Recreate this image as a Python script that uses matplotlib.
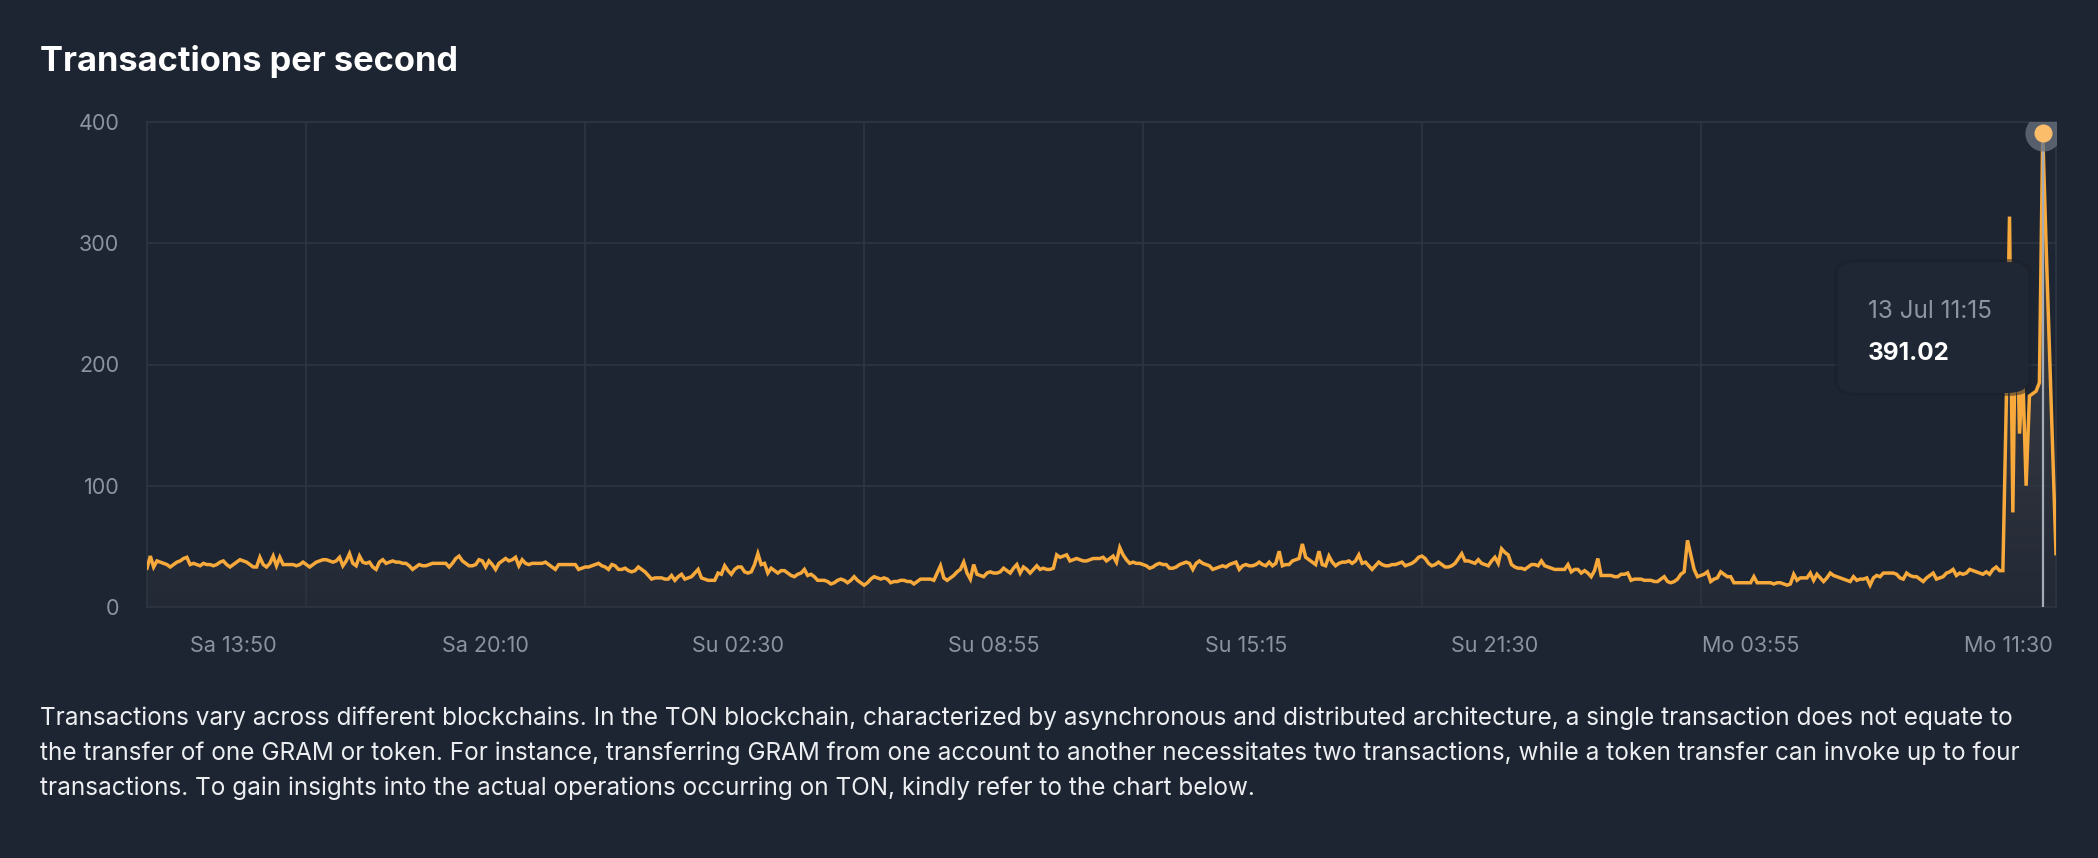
import numpy as np
import matplotlib
matplotlib.use("Agg")
import matplotlib.pyplot as plt
import matplotlib.dates as mdates
from matplotlib.patches import FancyBboxPatch
from matplotlib.colors import LinearSegmentedColormap

# ---------------- data ----------------
start_time = np.datetime64('2020-07-11T11:40')
step_minutes = 5

tps = [
    32, 42, 33, 38, 37, 36, 35, 33, 35, 37, 38, 40, 41, 35, 36, 35, 34, 36, 35, 35,
    34, 35, 37, 38, 35, 33, 35, 37, 39, 38, 37, 35, 33, 33, 41, 35, 33, 36, 42, 34,
    41, 35, 35, 35, 35, 34, 35, 37, 35, 33, 35, 37, 38, 39, 39, 38, 37, 38, 41, 34,
    38, 44, 36, 34, 42, 37, 36, 37, 33, 31, 37, 39, 36, 37, 38, 37, 37, 36, 36, 34,
    31, 33, 35, 34, 34, 35, 36, 36, 36, 36, 36, 33, 36, 40, 42, 38, 36, 34, 34, 35,
    39, 38, 33, 38, 35, 31, 36, 38, 40, 38, 39, 41, 34, 39, 36, 35, 36, 36, 36, 36,
    37, 35, 33, 31, 35, 35, 35, 35, 35, 35, 31, 32, 33, 33, 34, 35, 36, 34, 33, 31,
    35, 34, 31, 31, 32, 30, 29, 30, 33,
    31, 29, 26, 23, 24, 24, 24, 23, 23, 26, 22, 25, 27, 23, 24, 25, 28, 31, 24, 23,
    22, 22, 22, 28, 27, 34, 30, 27, 31, 33, 33, 29, 28, 29, 35, 44, 35, 36, 28, 32,
    30, 28, 30, 30, 28, 26, 25, 27, 28, 31, 26, 27, 25, 22, 22, 22, 21, 19, 20, 22,
    23, 22, 20, 22, 25, 22, 20, 18, 20, 23, 25, 24, 23, 24, 23, 20, 21, 21, 22, 22,
    21, 21, 19, 21, 23, 23, 23, 23, 22, 28, 34, 24, 22, 24, 26, 29, 31, 37, 28, 23,
    35, 27, 26, 25, 28, 29, 28, 28, 29, 32, 30, 28, 32, 35, 28, 33, 31, 28, 31, 34,
    31, 32, 31, 31, 32, 43, 41, 42, 43, 38, 39, 40, 39, 38, 38, 39, 40, 40, 40, 41,
    38, 40, 42, 37, 49, 43, 39, 36,
    37, 36, 36, 35, 34, 32, 33, 35, 36, 35, 35, 32, 32, 33, 35, 36, 37, 36, 31, 36,
    38, 36, 35, 34, 31, 32, 33, 34, 33, 35, 36, 37, 31, 34, 35, 34, 34, 35, 37, 35,
    34, 37, 34, 36, 46, 34, 35, 35, 38, 39, 40, 52, 41, 39, 37, 35, 46, 35, 34, 42,
    37, 34, 36, 37, 37, 38, 36, 38, 43, 36, 37, 34, 31, 34, 37, 35, 34, 34, 35, 35,
    36, 37, 34, 35, 36, 38, 41, 42, 40, 36, 34, 35, 37, 35, 33, 33, 34, 36, 40, 44,
    38, 38, 37, 36, 39, 36, 35, 34, 38, 41, 36, 48, 45, 43, 35, 33, 32, 32, 31, 33,
    35, 35, 34, 38, 34, 33, 32, 31, 31, 31, 31, 35, 29, 31, 31, 28, 30, 28, 25, 30,
    40, 26, 26, 26, 26, 25, 25,
    27, 27, 28, 22, 23, 23, 23, 22, 22, 22, 21, 21, 23, 25, 21, 20, 21, 23, 27, 29,
    55, 43, 31, 25, 26, 27, 29, 21, 23, 24, 29, 27, 25, 25, 20, 20, 20, 20, 20, 20,
    25, 20, 20, 20, 20, 20, 19, 20, 20, 19, 18, 19, 27, 22, 24, 24, 24, 28, 22, 27,
    24, 21, 24, 28, 26, 25, 24, 23, 22, 21, 25, 22, 23, 23, 24, 18, 24, 26, 25, 28,
    28, 28, 28, 27, 24, 23, 28, 26, 25, 25, 23, 21, 24, 26, 28, 23, 24, 25, 28, 29,
    31, 26, 28, 27, 28, 31, 30, 29, 28, 27, 29, 27, 31, 33, 30, 30,
    165, 322, 78, 283, 143, 191, 100, 174, 176, 178, 185, 391.02, 300, 215, 130, 44,
]

x_tick_times = ['2020-07-11T13:50', '2020-07-11T20:10', '2020-07-12T02:30',
                '2020-07-12T08:55', '2020-07-12T15:15', '2020-07-12T21:30',
                '2020-07-13T03:55', '2020-07-13T11:30']
x_tick_labels = ['Sa 13:50', 'Sa 20:10', 'Su 02:30', 'Su 08:55',
                 'Su 15:15', 'Su 21:30', 'Mo 03:55', 'Mo 11:30']
x_grid_times = ['2020-07-11T15:40', '2020-07-11T22:40', '2020-07-12T05:40',
                '2020-07-12T12:40', '2020-07-12T19:40', '2020-07-13T02:40']
y_ticks = [0, 100, 200, 300, 400]

tooltip_date = '13 Jul 11:15'
tooltip_value = '391.02'

title = 'Transactions per second'
paragraph = [
    "Transactions vary across different blockchains. In the TON blockchain, characterized by asynchronous and distributed architecture, a single transaction does not equate to",
    "the transfer of one GRAM or token. For instance, transferring GRAM from one account to another necessitates two transactions, while a token transfer can invoke up to four",
    "transactions. To gain insights into the actual operations occurring on TON, kindly refer to the chart below.",
]

# ---------------- style ----------------
BG = '#1e2532'
GRID = '#2d3542'
TICK = '#8a93a2'
LINE = '#f7a93b'
FONT = ['Inter', 'DejaVu Sans']
plt.rcParams['font.family'] = FONT

W, H, DPI = 2098, 858, 100
fig = plt.figure(figsize=(W / DPI, H / DPI), dpi=DPI, facecolor=BG)

ax_l, ax_r, ax_t, ax_b = 147, 2056, 122, 607
ax = fig.add_axes([ax_l / W, 1 - ax_b / H, (ax_r - ax_l) / W, (ax_b - ax_t) / H])
ax.set_facecolor(BG)

tps_arr = np.array(tps, dtype=float)
times = start_time + np.arange(len(tps_arr)) * np.timedelta64(step_minutes, 'm')
xd = mdates.date2num(times)

# gradient fill under curve
poly = ax.fill_between(xd, 0, tps_arr, color='none', lw=0)
grad = np.linspace(0, 1, 256).reshape(-1, 1)
cmap = LinearSegmentedColormap.from_list(
    'g', [(0.62, 0.58, 0.54, 0.04), (0.62, 0.58, 0.54, 0.30)])
im = ax.imshow(grad, cmap=cmap, aspect='auto', origin='lower',
               extent=[xd[0], xd[-1], 0, 400], zorder=1)
im.set_clip_path(poly.get_paths()[0], transform=ax.transData)

ax.plot(xd, tps_arr, color=LINE, lw=2.5, zorder=3, solid_joinstyle='miter')

ax.set_xlim(xd[0], xd[-1])
ax.set_ylim(0, 400)

# ticks / grid
ax.set_yticks(y_ticks)
ax.set_yticklabels([str(v) for v in y_ticks])
ax.set_xticks(mdates.date2num(np.array(x_tick_times, dtype='datetime64[m]')))
ax.set_xticklabels(x_tick_labels)
ax.set_xticks(mdates.date2num(np.array(x_grid_times, dtype='datetime64[m]')), minor=True)
ax.tick_params(axis='both', which='both', length=0, colors=TICK, labelsize=15.5)
ax.tick_params(axis='x', pad=21)
ax.tick_params(axis='y', pad=20)
xt = ax.get_xticklabels()
xt[-1].set_ha('right')
ax.grid(axis='y', which='major', color=GRID, lw=1.2)
ax.grid(axis='x', which='minor', color=GRID, lw=1.2)
ax.grid(axis='x', which='major', visible=False)
for s in ax.spines.values():
    s.set_color(GRID)
    s.set_linewidth(1.2)

# tooltip crosshair + marker
peak_i = int(np.argmax(tps_arr))
px, py = xd[peak_i], tps_arr[peak_i]
ax.plot([px, px], [0, py], color='#a4acb7', lw=1.6, zorder=4)
ax.plot([px], [py], 'o', ms=26, color='#6b7380', alpha=0.75, zorder=6, mec='none')
ax.plot([px], [py], 'o', ms=13, color='#fbbd69', zorder=7, mec='none')

# tooltip box (axes fraction)
bx0, bx1 = (1838 - ax_l) / (ax_r - ax_l), (2028 - ax_l) / (ax_r - ax_l)
by0, by1 = (ax_b - 393) / (ax_b - ax_t), (ax_b - 262) / (ax_b - ax_t)
shadow = FancyBboxPatch((bx0 - 0.002, by0 - 0.006), bx1 - bx0 + 0.004, by1 - by0 + 0.012,
                        boxstyle='round,pad=0,rounding_size=0.012', transform=ax.transAxes,
                        facecolor='#1a212c', edgecolor='none', alpha=0.5, zorder=5,
                        mutation_aspect=2.4)
ax.add_patch(shadow)
box = FancyBboxPatch((bx0, by0), bx1 - bx0, by1 - by0,
                     boxstyle='round,pad=0,rounding_size=0.011', transform=ax.transAxes,
                     facecolor='#1f2734', edgecolor='none', zorder=5.5,
                     mutation_aspect=2.4)
ax.add_patch(box)
tx = (1868 - ax_l) / (ax_r - ax_l)
ax.text(tx, (ax_b - 312) / (ax_b - ax_t), tooltip_date, transform=ax.transAxes,
        color='#8c95a3', fontsize=17.5, va='center', ha='left', zorder=6)
ax.text(tx, (ax_b - 354) / (ax_b - ax_t), tooltip_value, transform=ax.transAxes,
        color='#ffffff', fontsize=17.5, fontweight='bold', va='center', ha='left', zorder=6)

# title
fig.text(40 / W, 1 - 61 / H, title, color='white', fontsize=24.8, fontweight='bold',
         va='center', ha='left')

# paragraph
for k, line in enumerate(paragraph):
    fig.text(40 / W, 1 - (718 + 35 * k) / H, line, color='#eceef1', fontsize=17.5,
             va='center', ha='left')

fig.savefig('out.png', dpi=DPI, facecolor=BG)
